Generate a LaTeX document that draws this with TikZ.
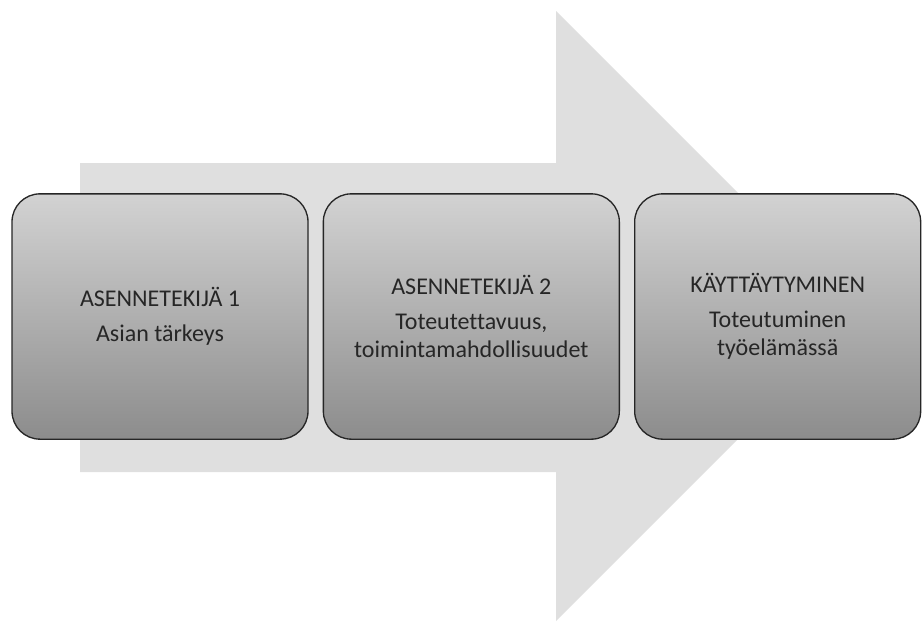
\documentclass[tikz,border=0pt]{standalone}
\usepackage{fontspec}
\setmainfont[Ligatures=NoCommon]{Carlito}
\usepackage{tikz}
\usetikzlibrary{positioning}

\begin{document}
\begin{tikzpicture}[x=0.75pt, y=-0.75pt,
    every node/.style={
    draw=black!85, line width=1pt, rounded corners=21pt,
    top color=gray!35, bottom color=gray!90,
    minimum width=222pt, minimum height=184pt,
    align=center, text=black!85, font=\fontsize{18}{21}\selectfont}
    ]
    \useasboundingbox (0,0) rectangle (923,622);
    % big arrow behind the boxes
    \fill[gray!25] (80,163) -- (556,163) -- (556,11) -- (861,316)
        -- (556,621) -- (556,472) -- (80,472) -- cycle;

    \node (factor1) at (160,316.5) {ASENNETEKIJÄ 1\\[5pt]Asian tärkeys};
    \node[right=10.5pt of factor1](factor2) {ASENNETEKIJÄ 2\\[5pt]Toteutettavuus,\\toimintamahdollisuudet};
    \node[right=10.5pt of factor2, minimum width=214.5pt](behaviour) {KÄYTTÄYTYMINEN\\[5pt]Toteutuminen\\työelämässä};
\end{tikzpicture}
\end{document}
